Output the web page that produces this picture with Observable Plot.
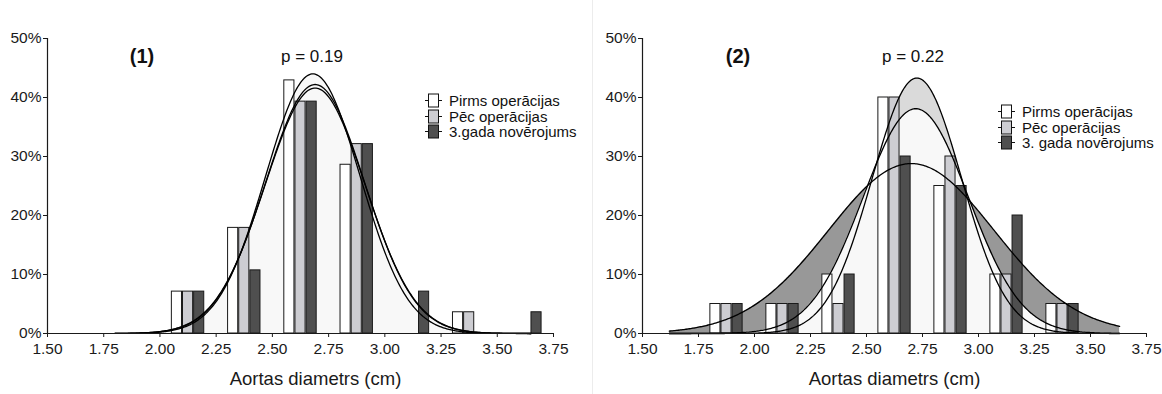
<!DOCTYPE html>
<html><head><meta charset="utf-8">
<script src="https://cdn.jsdelivr.net/npm/d3@7"></script>
<script src="https://cdn.jsdelivr.net/npm/@observablehq/plot@0.6"></script>
<style>
body{margin:0;background:#fff;font-family:"Liberation Sans",Arial,sans-serif;}
#wrap{position:relative;width:1162px;height:394px;overflow:hidden;}
.panel{position:absolute;top:0;}
.sep{position:absolute;left:592px;top:0;width:1px;height:394px;background:#ececec;}
.ann{position:absolute;color:#111;white-space:nowrap;transform:translate(-50%,-50%);}
.num{font-weight:bold;font-size:20px;}
.pv{font-size:17px;}
.legend{position:absolute;font-size:15px;color:#111;}
.legend .row{display:flex;align-items:center;height:15.5px;}
.legend svg{margin-right:7px;}
</style>
</head><body>
<div id="wrap"></div>
<script>
// ---- data ----
const binCenters = [1.875, 2.125, 2.375, 2.625, 2.875, 3.125, 3.375, 3.625];
const seriesNames1 = ["Pirms operācijas", "Pēc operācijas", "3.gada novērojums"];
const seriesNames2 = ["Pirms operācijas", "Pēc operācijas", "3. gada novērojums"];
const seriesColors = ["#ffffff", "#cdcdd2", "#4f4f4f"];

// panel (1), % of patients per bin
const p1Pirms = [0, 7.1, 17.9, 42.9, 28.6, 0, 3.6, 0];
const p1Pec   = [0, 7.1, 17.9, 39.3, 32.1, 0, 3.6, 0];
const p1Gada3 = [0, 7.1, 10.7, 39.3, 32.1, 7.1, 0, 3.6];
// panel (2)
const p2Pirms = [5, 5, 10, 40, 25, 10, 5, 0];
const p2Pec   = [5, 5, 5, 40, 30, 10, 5, 0];
const p2Gada3 = [5, 5, 10, 30, 25, 20, 5, 0];

// fitted normal curves (mean, peak %, sd)
const p1Means = [2.68, 2.69, 2.69];
const p1Peaks = [44.0, 42.2, 41.6];
const p1Sds   = [0.210, 0.220, 0.222];
const p1Range = [1.80, 3.65];
// panel 2: [tallest, middle, widest]
const p2Means = [2.725, 2.72, 2.70];
const p2Peaks = [43.3, 38.1, 28.8];
const p2Sds   = [0.200, 0.235, 0.370];
const p2Range = [1.62, 3.63];

const xTicks = [1.5, 1.75, 2.0, 2.25, 2.5, 2.75, 3.0, 3.25, 3.5, 3.75];
const yTicks = [0, 10, 20, 30, 40, 50];
const pValues = ["p = 0.19", "p = 0.22"];
const panelNames = ["(1)", "(2)"];
const xLabel = "Aortas diametrs (cm)";

// ---- helpers ----
function barRows(seriesVals) {
  const rows = [];
  seriesVals.forEach((vals, s) => vals.forEach((v, i) => {
    if (v > 0) rows.push({center: binCenters[i], s, v});
  }));
  return rows;
}
function curvePts(means, peaks, sds, range) {
  const xs = d3.range(range[0], range[1] + 1e-9, 0.005);
  return xs.map(x => {
    const row = {x};
    means.forEach((m, k) => { row["c" + k] = peaks[k] * Math.exp(-((x - m) ** 2) / (2 * sds[k] ** 2)); });
    return row;
  });
}

function panel({vals, means, peaks, sds, range, mL, mR, twoFills, labelDx}) {
  const bars = barRows(vals);
  const pts = curvePts(means, peaks, sds, range);
  const W = 0.045, STEP = 0.0495;
  const long = [];
  pts.forEach(p => means.forEach((_, k) => long.push({x: p.x, y: p["c" + k], k})));
  const marks = [
    Plot.areaY(pts, {x: "x", y1: () => 0, y2: d => Math.max(...means.map((_, k) => d["c" + k])), fill: "#f8f8f8"})
  ];
  if (twoFills) {
    marks.push(Plot.areaY(pts, {x: "x", y1: "c1", y2: d => Math.max(d.c1, d.c2), fill: "#989898"}));
    marks.push(Plot.areaY(pts, {x: "x", y1: "c1", y2: d => Math.max(d.c1, d.c0), fill: "#dadada"}));
  }
  marks.push(
    Plot.rect(bars, {
      x1: d => d.center + (d.s - 1) * STEP - W / 2,
      x2: d => d.center + (d.s - 1) * STEP + W / 2,
      y1: () => 0, y2: "v",
      fill: d => seriesColors[d.s], stroke: "#1a1a1a", strokeWidth: 1
    }),
    Plot.line(long, {x: "x", y: "y", z: "k", stroke: "#000", strokeWidth: 1.3}),
    Plot.ruleY([0], {stroke: "#1a1a1a", strokeWidth: 1.2}),
    Plot.ruleX([1.5], {stroke: "#1a1a1a", strokeWidth: 1.2}),
    Plot.axisX({ticks: xTicks, tickFormat: d => d.toFixed(2), tickSize: 4, tickPadding: 5, label: null, fontSize: 15.5}),
    Plot.axisY({ticks: yTicks, tickFormat: d => d + "%", tickSize: 4, tickPadding: 2, label: null, fontSize: 15.5}),
    Plot.text([xLabel], {text: d => d, frameAnchor: "bottom", dy: 51, dx: labelDx, fontSize: 18.5, fill: "#1a1a1a"})
  );
  return Plot.plot({
    width: 581, height: 394,
    marginLeft: mL, marginRight: mR, marginTop: 38, marginBottom: 61,
    x: {domain: [1.5, 3.75]},
    y: {domain: [0, 50]},
    style: {fontFamily: "'Liberation Sans', Arial, sans-serif", fontSize: "15.5px", color: "#1a1a1a", background: "transparent"},
    marks
  });
}

const wrap = document.getElementById("wrap");
const sep = document.createElement("div"); sep.className = "sep"; wrap.appendChild(sep);

const c1 = panel({vals: [p1Pirms, p1Pec, p1Gada3], means: p1Means, peaks: p1Peaks, sds: p1Sds, range: p1Range, mL: 47, mR: 28, twoFills: false, labelDx: 15});
c1.classList.add("panel"); c1.style.left = "0px"; wrap.appendChild(c1);
const c2 = panel({vals: [p2Pirms, p2Pec, p2Gada3], means: p2Means, peaks: p2Peaks, sds: p2Sds, range: p2Range, mL: 61, mR: 16, twoFills: true, labelDx: 0});
c2.classList.add("panel"); c2.style.left = "581px"; wrap.appendChild(c2);

function ann(text, cls, x, y) {
  const d = document.createElement("div"); d.className = "ann " + cls; d.textContent = text;
  d.style.left = x + "px"; d.style.top = y + "px"; wrap.appendChild(d);
}
ann(panelNames[0], "num", 142, 56);
ann(panelNames[1], "num", 738, 56);
ann(pValues[0], "pv", 312, 57);
ann(pValues[1], "pv", 913, 57);

function legend(names, x, y) {
  const L = document.createElement("div"); L.className = "legend";
  L.style.left = x + "px"; L.style.top = y + "px";
  names.forEach((n, i) => {
    const r = document.createElement("div"); r.className = "row";
    r.innerHTML = `<svg width="17" height="15"><line x1="0" x2="17" y1="7.5" y2="7.5" stroke="#111"/><rect x="3.5" y="1" width="10" height="13" fill="${seriesColors[i]}" stroke="#111"/></svg><span>${n}</span>`;
    L.appendChild(r);
  });
  wrap.appendChild(L);
}
legend(seriesNames1, 425, 93);
legend(seriesNames2, 998, 104);
</script>
</body></html>
